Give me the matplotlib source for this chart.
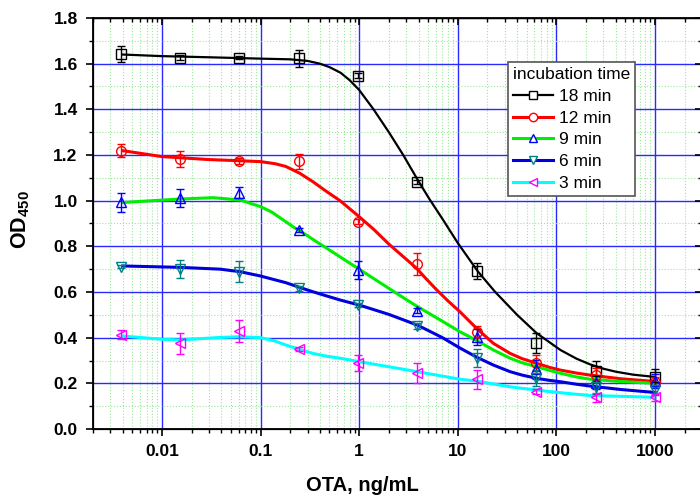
import matplotlib
matplotlib.use('Agg')
import matplotlib.pyplot as plt
from matplotlib.ticker import FixedLocator, LogLocator, MultipleLocator, NullFormatter
from matplotlib.lines import Line2D

plt.rcParams['font.family'] = ['Liberation Sans', 'DejaVu Sans']
plt.rcParams['mathtext.fontset'] = 'custom'
plt.rcParams['mathtext.rm'] = 'Liberation Sans'
plt.rcParams['mathtext.bf'] = 'Liberation Sans:bold'

# OTA concentrations (4-fold dilutions)
dose = [0.0038147, 0.0152588, 0.0610352, 0.244141, 0.976563, 3.90625, 15.625, 62.5, 250, 1000]

labels = ['18 min', '12 min', '9 min', '6 min', '3 min']

od18 = [1.641, 1.627, 1.627, 1.623, 1.547, 1.082, 0.693, 0.378, 0.255, 0.226]
err18 = [0.035, 0.011, 0.008, 0.036, 0.010, 0.010, 0.035, 0.044, 0.044, 0.035]
od12 = [1.219, 1.184, 1.174, 1.172, 0.908, 0.722, 0.426, 0.290, 0.237, 0.207]
err12 = [0.027, 0.035, 0.015, 0.032, 0.010, 0.049, 0.026, 0.035, 0.030, 0.020]
od9 = [0.992, 1.012, 1.035, 0.872, 0.696, 0.518, 0.404, 0.261, 0.203, 0.210]
err9 = [0.042, 0.038, 0.024, 0.008, 0.038, 0.010, 0.034, 0.042, 0.030, 0.030]
od6 = [0.711, 0.700, 0.689, 0.616, 0.543, 0.451, 0.310, 0.222, 0.183, 0.171]
err6 = [0.008, 0.040, 0.045, 0.010, 0.010, 0.012, 0.040, 0.035, 0.030, 0.020]
od3 = [0.412, 0.375, 0.430, 0.350, 0.288, 0.247, 0.218, 0.164, 0.139, 0.139]
err3 = [0.020, 0.046, 0.047, 0.010, 0.034, 0.044, 0.042, 0.010, 0.020, 0.015]

# fitted curves
fit18_x = [0.004, 0.01, 0.03, 0.1, 0.2, 0.3, 0.4, 0.5, 0.65, 0.8, 1, 1.4, 2, 2.8, 4, 5.2, 7, 10, 13, 16, 24, 40, 63, 110, 160, 220, 300, 400, 600, 1000]
fit18_y = [1.640, 1.633, 1.628, 1.622, 1.619, 1.612, 1.600, 1.585, 1.560, 1.528, 1.485, 1.400, 1.300, 1.200, 1.085, 1.005, 0.920, 0.815, 0.745, 0.690, 0.600, 0.500, 0.420, 0.346, 0.308, 0.283, 0.264, 0.251, 0.238, 0.228]
fit12_x = [0.004, 0.01, 0.03, 0.06, 0.1, 0.14, 0.18, 0.25, 0.34, 0.45, 0.64, 1, 1.4, 2, 2.8, 3.8, 4.8, 6, 8, 10.5, 15.5, 23, 34, 45, 63, 85, 110, 160, 220, 450, 1000]
fit12_y = [1.219, 1.193, 1.180, 1.175, 1.171, 1.162, 1.150, 1.120, 1.083, 1.045, 1.000, 0.930, 0.875, 0.810, 0.755, 0.705, 0.657, 0.613, 0.560, 0.514, 0.441, 0.375, 0.331, 0.308, 0.288, 0.270, 0.258, 0.245, 0.236, 0.220, 0.208]
fit9_x = [0.004, 0.015, 0.033, 0.062, 0.1, 0.13, 0.18, 0.22, 0.29, 0.37, 0.5, 0.7, 1, 1.6, 2.5, 3.9, 6.5, 10.5, 15.5, 23, 34, 45, 63, 85, 110, 160, 220, 450, 1000]
fit9_y = [0.992, 1.007, 1.013, 1.003, 0.974, 0.950, 0.908, 0.882, 0.850, 0.820, 0.784, 0.743, 0.700, 0.643, 0.589, 0.536, 0.480, 0.426, 0.388, 0.346, 0.310, 0.290, 0.273, 0.257, 0.244, 0.228, 0.218, 0.208, 0.200]
fit6_x = [0.004, 0.015, 0.039, 0.062, 0.1, 0.13, 0.18, 0.25, 0.34, 0.45, 0.64, 1, 2, 3.9, 7, 10.5, 15.5, 23, 34, 45, 63, 85, 110, 160, 220, 450, 1000]
fit6_y = [0.714, 0.708, 0.700, 0.689, 0.670, 0.657, 0.641, 0.620, 0.601, 0.585, 0.565, 0.543, 0.502, 0.455, 0.400, 0.355, 0.315, 0.280, 0.251, 0.236, 0.222, 0.213, 0.207, 0.196, 0.188, 0.173, 0.160]
fit3_x = [0.004, 0.01, 0.015, 0.039, 0.062, 0.1, 0.14, 0.18, 0.25, 0.34, 0.45, 0.64, 1, 3.9, 10.5, 15.5, 23, 34, 45, 63, 85, 110, 160, 220, 450, 1000]
fit3_y = [0.407, 0.393, 0.390, 0.401, 0.404, 0.400, 0.385, 0.368, 0.348, 0.331, 0.320, 0.310, 0.295, 0.251, 0.218, 0.210, 0.197, 0.185, 0.178, 0.171, 0.164, 0.159, 0.152, 0.147, 0.143, 0.139]

xticks = [0.01, 0.1, 1, 10, 100, 1000]
xticklabels = ['0.01', '0.1', '1', '10', '100', '1000']

series = [
    (od18, err18, fit18_x, fit18_y, 'black', 'black', 's', 1.6),
    (od12, err12, fit12_x, fit12_y, '#ff0000', '#ff0000', 'o', 2.2),
    (od9, err9, fit9_x, fit9_y, '#00ee00', '#0000ff', '^', 2.2),
    (od6, err6, fit6_x, fit6_y, '#0000dd', '#008080', 'v', 2.2),
    (od3, err3, fit3_x, fit3_y, '#00ffff', '#ff00ff', '<', 2.2),
]

fig = plt.figure(figsize=(7, 4.99), dpi=100)
ax = fig.add_axes([93 / 700, 70 / 499, 609 / 700, 411 / 499])
ax.set_xscale('log')
ax.set_xlim(0.002, 3000)
ax.set_ylim(0, 1.8)

handles = []
for od, err, fx, fy, lc, mc, mk, lw in series:
    ax.plot(fx, fy, color=lc, lw=lw, zorder=3)
    ax.errorbar(dose, od, yerr=err, fmt=mk, ms=7, mec=mc, mfc='none', mew=1,
                ecolor=mc, elinewidth=1, capsize=3, capthick=1, zorder=4)
    handles.append(Line2D([], [], color=lc, lw=lw, marker=mk, ms=6, mec=mc,
                          mfc='white', mew=1))

# ticks and grid
ax.xaxis.set_major_locator(FixedLocator(xticks))
ax.set_xticklabels(xticklabels)
ax.xaxis.set_minor_locator(LogLocator(base=10, subs=range(2, 10), numticks=20))
ax.xaxis.set_minor_formatter(NullFormatter())
ax.yaxis.set_major_locator(MultipleLocator(0.2))
ax.yaxis.set_minor_locator(MultipleLocator(0.1))
ax.set_yticklabels([f'{v:.1f}' for v in ax.get_yticks()])
ax.grid(which='minor', color='#9be89b', ls=':', lw=0.8, zorder=0)
ax.grid(which='major', color='#2a2aff', ls='-', lw=1.0, zorder=1)
ax.set_axisbelow(True)

ax.tick_params(which='major', direction='out', length=5, width=1.2,
               labelsize=12.5, pad=6)
ax.tick_params(which='minor', direction='out', length=3, width=1)
for lab in ax.get_xticklabels() + ax.get_yticklabels():
    lab.set_fontweight('bold')

for s in ax.spines.values():
    s.set_linewidth(1.3)

# inward ticks on top and right
top = ax.twiny()
top.set_xscale('log')
top.set_xlim(ax.get_xlim())
top.xaxis.set_major_locator(FixedLocator(xticks))
top.xaxis.set_minor_locator(LogLocator(base=10, subs=range(2, 10), numticks=20))
top.tick_params(which='both', direction='in', labeltop=False)
top.tick_params(which='major', length=5, width=1.2)
top.tick_params(which='minor', length=3, width=1)
right = ax.twinx()
right.set_ylim(ax.get_ylim())
right.yaxis.set_major_locator(MultipleLocator(0.2))
right.yaxis.set_minor_locator(MultipleLocator(0.1))
right.tick_params(which='both', direction='in', labelright=False)
right.tick_params(which='major', length=5, width=1.2)
right.tick_params(which='minor', length=3, width=1)

ax.set_xlabel('OTA, ng/mL', fontsize=14.5, fontweight='bold')
ax.xaxis.set_label_coords((362 - 93) / 609, -0.115)
ax.set_ylabel(r'$\mathbf{OD}_{\mathbf{450}}$', fontsize=15.5)
ax.yaxis.set_label_coords(-0.1, 0.51)

leg = ax.legend(handles, labels, title='incubation time', loc='upper left',
                bbox_to_anchor=(0.681, 0.893), fontsize=12.5, title_fontsize=12.5,
                alignment='left', fancybox=False, framealpha=1, edgecolor='#555555',
                handlelength=2.3, handletextpad=0.35, labelspacing=0.38,
                borderpad=0.3, borderaxespad=0)
leg.get_frame().set_linewidth(1.2)
leg.set_zorder(10)

fig.savefig('out.png', dpi=100)
